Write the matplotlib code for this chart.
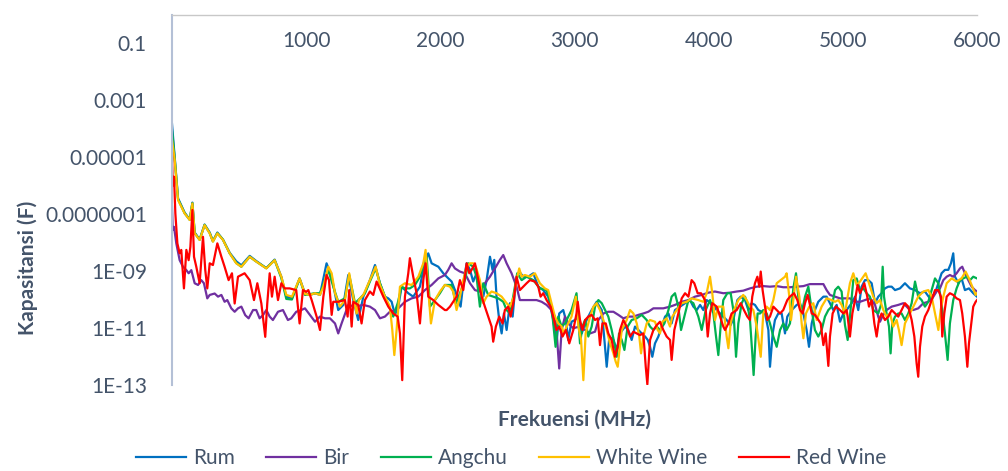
import numpy as np
import matplotlib.pyplot as plt
from matplotlib.ticker import NullLocator

# frequency in MHz, capacitance as log10(F)
rum_f = [0, 20, 45, 94, 132, 152, 169, 206, 243, 281, 305, 338, 380, 430, 479, 517, 579, 628, 703, 765, 815, 852, 894, 951, 991,
         1028, 1066, 1103, 1152, 1190, 1239, 1277, 1314, 1351, 1388, 1426, 1475, 1513, 1550, 1587, 1612, 1637, 1662, 1687, 1711, 1761, 1798, 1848, 1885, 1910, 1935, 1985, 2022,
         2047, 2084, 2109, 2134, 2151, 2171, 2196, 2221, 2245, 2270, 2295, 2320, 2345, 2370, 2389, 2402, 2419, 2439, 2457, 2474, 2494, 2519, 2539, 2563, 2588, 2618, 2655, 2693, 2730, 2767, 2804, 2842, 2866, 2886, 2916, 2936, 2953, 2978, 3003,
         3029, 3054, 3079, 3103, 3128, 3165, 3203, 3223, 3240, 3260, 3290, 3315, 3339, 3377, 3401, 3426, 3451, 3476, 3501, 3526, 3546, 3563, 3580, 3600, 3625, 3650, 3675, 3700, 3724, 3749, 3786, 3824, 3861, 3886, 3911, 3936, 3960, 3985, 4022,
         4060, 4085, 4109, 4134, 4164, 4189, 4214, 4239, 4271, 4296, 4320, 4345, 4370, 4395, 4420, 4445, 4457, 4477, 4494, 4519, 4544, 4569, 4586, 4619, 4656, 4681, 4706, 4730, 4748, 4768, 4792, 4817, 4855, 4879, 4904, 4929, 4954, 4979, 5004, 5028,
         5066, 5091, 5115, 5140, 5165, 5190, 5215, 5240, 5264, 5289, 5314, 5339, 5364, 5389, 5426, 5463, 5500, 5538, 5575, 5612, 5649, 5687, 5712, 5736, 5761, 5786, 5806, 5823, 5836, 5861, 5885, 5910, 5940, 5972, 6000]
rum_logc = [-3.84, -5.00, -6.45, -6.95, -7.20, -6.60, -7.65, -7.90, -7.37, -7.65, -7.95, -7.65, -7.90, -8.36, -8.66, -8.80, -8.47, -8.65, -8.90, -8.60, -9.20, -9.90, -9.95, -9.26, -9.78,
            -9.84, -9.78, -9.84, -8.73, -9.20, -10.37, -10.19, -9.14, -10.02, -10.72, -9.90, -9.32, -8.79, -9.43, -9.90, -9.96, -10.08, -10.54, -10.25, -9.55, -9.78, -9.90, -9.55, -8.67, -8.38, -8.73, -8.85, -9.08,
            -9.20, -9.37, -9.67, -10.02, -10.25, -9.43, -8.73, -8.96, -9.37, -9.08, -9.67, -9.90, -9.32, -8.50, -8.96, -8.61, -9.90, -10.72, -11.19, -10.49, -11.07, -10.13, -10.60, -9.32, -9.02, -9.20, -9.20, -9.08, -9.55, -9.67, -9.90, -10.72, -11.54, -10.49, -10.37, -10.72, -11.42, -10.78, -10.72,
            -10.60, -11.19, -10.84, -10.60, -10.37, -10.08, -10.37, -11.42, -12.36, -11.30, -11.42, -11.77, -11.19, -10.95, -11.07, -11.42, -10.95, -11.07, -11.19, -11.30, -11.42, -11.66, -12.01, -11.54, -11.30, -10.95, -10.60, -10.49, -10.84, -10.37, -10.25, -10.13, -10.02, -10.25, -10.37, -10.19, -10.37, -10.02, -10.13,
            -10.37, -10.49, -10.60, -10.72, -10.90, -10.60, -10.02, -9.90, -10.02, -10.37, -10.13, -10.19, -10.37, -10.43, -10.49, -11.07, -12.36, -11.19, -10.72, -10.49, -10.49, -11.19, -10.60, -10.37, -10.19, -10.13, -10.49, -11.07, -11.66, -10.84, -10.37, -10.08, -9.90, -9.90, -10.13, -10.37, -10.19, -10.78, -10.49, -10.37,
            -10.13, -9.90, -10.37, -9.55, -9.32, -9.32, -9.43, -10.13, -9.90, -9.78, -9.61, -9.55, -9.55, -9.67, -9.61, -9.43, -9.61, -9.67, -9.78, -9.72, -9.96, -9.78, -9.43, -9.08, -8.96, -8.96, -8.73, -8.38, -9.20, -9.43, -9.26, -9.67, -9.61, -9.78, -9.90]

bir_f = [0, 5, 15, 32, 57, 82, 107, 124, 144, 169, 194, 218, 238, 263, 281, 318, 343, 368, 392, 412, 442, 467, 492, 517, 546, 571, 604, 628, 653, 678, 703, 728, 752, 790, 827, 864, 889, 926, 964, 991,
         1028, 1066, 1103, 1140, 1177, 1215, 1239, 1264, 1314, 1364, 1426, 1475, 1513, 1550, 1587, 1624, 1674, 1736, 1786, 1836, 1885, 1935, 1985, 2034,
         2059, 2084, 2109, 2146, 2183, 2221, 2258, 2295, 2332, 2370, 2407, 2444, 2469, 2494, 2531, 2568, 2593, 2630, 2668, 2717, 2755, 2792, 2829, 2854, 2871, 2886, 2904, 2929, 2953, 2991, 3035,
         3079, 3116, 3153, 3178, 3215, 3252, 3290, 3327, 3364, 3401, 3439, 3476, 3513, 3550, 3588, 3625, 3662, 3712, 3749, 3799, 3849, 3898, 3948, 3998, 4047,
         4109, 4159, 4209, 4258, 4308, 4358, 4407, 4457, 4507, 4556, 4606, 4656, 4706, 4755, 4805, 4855, 4879, 4904, 4942, 4979, 5016,
         5053, 5091, 5128, 5165, 5202, 5240, 5264, 5277, 5294, 5326, 5364, 5413, 5451, 5488, 5525, 5562, 5600, 5637, 5667, 5699, 5724, 5749, 5774, 5798, 5823, 5848, 5873, 5890, 5910, 5935, 5960, 5985, 6000]
bir_logc = [-6.74, -7.56, -7.45, -8.03, -8.62, -8.85, -8.97, -9.08, -8.97, -9.43, -9.49, -9.32, -9.43, -9.96, -9.84, -9.79, -9.90, -9.84, -10.08, -10.02, -10.31, -10.43, -10.31, -10.25, -10.55, -10.66, -10.37, -10.37, -10.66, -10.55, -10.37, -10.60, -10.72, -10.43, -10.37, -10.72, -10.66, -10.43, -10.37, -10.31,
            -10.54, -10.78, -10.60, -10.66, -10.66, -10.84, -11.19, -10.84, -10.19, -10.25, -10.19, -10.25, -10.37, -10.66, -10.60, -10.43, -10.37, -10.08, -9.96, -9.90, -9.67, -9.49, -9.26, -9.14,
            -8.96, -8.73, -8.91, -9.02, -9.08, -9.43, -9.67, -9.72, -9.43, -9.20, -8.91, -8.61, -8.44, -8.73, -9.08, -9.55, -10.02, -10.02, -10.02, -10.02, -10.08, -10.19, -10.37, -10.60, -11.42, -12.42, -11.07, -10.60, -10.84, -11.01, -10.95,
            -11.07, -11.19, -11.13, -10.72, -10.49, -10.43, -10.43, -10.54, -10.66, -10.60, -10.60, -10.54, -10.49, -10.43, -10.31, -10.31, -10.31, -10.25, -10.19, -10.08, -10.02, -9.90, -9.84, -9.76, -9.72,
            -9.78, -9.76, -9.72, -9.69, -9.61, -9.55, -9.53, -9.55, -9.53, -9.57, -9.57, -9.55, -9.53, -9.46, -9.46, -9.46, -9.67, -9.84, -9.90, -9.96, -9.96,
            -9.96, -10.08, -10.08, -10.02, -9.96, -10.19, -10.60, -10.78, -10.60, -10.37, -10.25, -10.19, -10.13, -10.31, -10.37, -10.31, -10.13, -10.08, -9.96, -9.72, -9.61, -9.32, -9.20, -9.14, -9.20, -9.08, -8.91, -8.85, -9.08, -9.32, -9.55, -9.67, -9.72]

angchu_f = [0, 20, 45, 94, 132, 152, 169, 206, 243, 281, 305, 338, 380, 430, 479, 517, 579, 628, 703, 765, 815, 852, 894, 951, 991,
            1066, 1103, 1128, 1165, 1202, 1239, 1289, 1321, 1364, 1401, 1438, 1475, 1518, 1550, 1587, 1624, 1649, 1682, 1711, 1736, 1773, 1811, 1848, 1880, 1898, 1923, 1960, 1997, 2034,
            2084, 2116, 2146, 2183, 2208, 2245, 2270, 2295, 2320, 2357, 2394, 2432, 2469, 2494, 2519, 2543, 2573, 2606, 2643, 2693, 2742, 2792, 2829, 2859, 2879, 2904, 2929, 2978, 3015,
            3024, 3041, 3059, 3079, 3103, 3128, 3153, 3178, 3203, 3228, 3252, 3277, 3297, 3315, 3332, 3352, 3372, 3396, 3426, 3464, 3501, 3538, 3563, 3588, 3613, 3637, 3670, 3700, 3724, 3749, 3774, 3794, 3819, 3849, 3886, 3923, 3948, 3978, 4010,
            4035, 4055, 4072, 4089, 4109, 4139, 4164, 4184, 4196, 4204, 4221, 4246, 4271, 4288, 4308, 4325, 4335, 4350, 4365, 4383, 4407, 4432, 4457, 4482, 4507, 4532, 4556, 4581, 4606, 4631, 4651, 4668, 4693, 4718, 4743, 4768, 4792, 4817, 4842, 4867, 4892, 4917, 4942, 4966, 4991, 5016, 5036,
            5053, 5078, 5103, 5128, 5153, 5177, 5202, 5227, 5264, 5284, 5297, 5307, 5326, 5344, 5356, 5369, 5389, 5413, 5438, 5463, 5488, 5513, 5538, 5562, 5587, 5612, 5637, 5662, 5687, 5712, 5736, 5761, 5781, 5798, 5823, 5848, 5873, 5898, 5923, 5948, 5972, 6000]
angchu_logc = [-4.05, -5.05, -6.48, -6.97, -7.20, -6.62, -7.67, -7.90, -7.38, -7.67, -7.96, -7.67, -7.90, -8.38, -8.72, -8.85, -8.50, -8.67, -8.90, -8.62, -9.25, -9.98, -10.00, -9.27, -9.84,
               -9.78, -9.78, -9.49, -8.96, -9.55, -10.08, -9.96, -9.14, -10.13, -9.96, -9.78, -9.37, -8.91, -9.43, -9.90, -10.31, -10.60, -10.13, -9.55, -9.61, -9.61, -9.49, -9.20, -8.67, -8.50, -10.25, -10.02, -9.78, -9.49,
               -9.49, -10.13, -9.78, -9.32, -8.73, -8.85, -9.20, -10.25, -9.43, -9.84, -9.90, -9.96, -10.08, -10.37, -10.49, -9.90, -9.08, -9.32, -9.20, -9.32, -9.61, -9.67, -10.25, -11.66, -10.60, -10.95, -10.84, -10.37, -9.78,
               -10.37, -11.54, -10.95, -10.72, -11.30, -10.95, -10.25, -10.02, -10.13, -10.37, -10.60, -11.07, -11.54, -12.01, -11.19, -11.42, -11.77, -10.95, -10.72, -10.66, -10.54, -10.72, -10.95, -11.07, -10.95, -11.07, -10.84, -10.37, -9.90, -9.78, -10.25, -11.07, -10.60, -10.02, -10.13, -10.60, -11.07, -10.37, -10.02,
               -10.49, -11.30, -11.95, -10.95, -10.02, -9.78, -9.78, -10.37, -11.30, -12.01, -10.84, -10.13, -9.90, -10.13, -10.72, -11.89, -12.65, -11.30, -10.49, -10.49, -10.37, -10.49, -10.84, -11.30, -11.66, -11.07, -10.84, -11.07, -10.84, -9.61, -9.08, -9.90, -10.49, -9.90, -9.55, -10.37, -11.07, -11.30, -11.07, -10.60, -10.37, -10.25, -9.67, -9.55, -9.72, -10.90, -11.42,
               -10.60, -9.32, -9.26, -9.67, -9.61, -9.78, -9.90, -10.37, -10.49, -10.19, -8.85, -9.90, -10.49, -10.95, -11.89, -10.84, -10.60, -10.49, -10.49, -10.72, -10.49, -10.13, -9.37, -9.90, -10.02, -10.25, -10.08, -9.67, -9.26, -9.43, -10.13, -11.19, -12.12, -10.84, -10.02, -9.61, -9.32, -9.26, -9.20, -9.32, -9.20, -9.26]

white_f = [0, 20, 45, 94, 132, 152, 169, 206, 243, 281, 305, 338, 380, 430, 479, 517, 579, 628, 703, 765, 815, 852, 894, 951, 991,
           1028, 1066, 1103, 1128, 1165, 1190, 1215, 1252, 1289, 1321, 1351, 1376, 1393, 1426, 1475, 1518, 1550, 1587, 1624, 1642, 1657, 1674, 1699, 1736, 1786, 1836, 1873, 1890, 1910, 1930, 1960, 1997, 2034,
           2072, 2096, 2121, 2146, 2171, 2196, 2221, 2245, 2265, 2295, 2320, 2345, 2382, 2419, 2457, 2494, 2519, 2548, 2568, 2588, 2606, 2630, 2668, 2705, 2742, 2779, 2804, 2829, 2854, 2879, 2904, 2921, 2941, 2978, 3010,
           3029, 3049, 3066, 3083, 3116, 3141, 3165, 3190, 3215, 3240, 3265, 3290, 3307, 3322, 3352, 3389, 3414, 3439, 3464, 3483, 3496, 3513, 3538, 3563, 3600, 3620, 3637, 3655, 3687, 3712, 3729, 3762, 3799, 3836, 3873, 3923, 3960, 3985, 4010, 4027,
           4047, 4072, 4109, 4134, 4147, 4164, 4189, 4221, 4258, 4283, 4308, 4333, 4358, 4378, 4388, 4407, 4432, 4457, 4482, 4507, 4537, 4569, 4581, 4601, 4614, 4631, 4651, 4676, 4693, 4706, 4725, 4750, 4780, 4805, 4842, 4879, 4917, 4942, 4966, 4991, 5016,
           5036, 5053, 5078, 5103, 5128, 5153, 5170, 5195, 5227, 5252, 5277, 5302, 5326, 5351, 5376, 5401, 5418, 5438, 5463, 5488, 5513, 5538, 5562, 5600, 5637, 5662, 5687, 5712, 5729, 5749, 5774, 5811, 5848, 5885, 5915, 5940, 5965, 5990, 6000]
white_logc = [-4.40, -5.11, -6.51, -6.98, -7.21, -6.63, -7.68, -7.91, -7.39, -7.68, -7.97, -7.68, -7.91, -8.38, -8.73, -8.85, -8.50, -8.67, -8.91, -8.62, -9.20, -9.84, -9.90, -9.26, -9.80,
              -9.84, -9.78, -9.84, -9.55, -8.85, -9.08, -9.78, -10.25, -10.02, -9.08, -9.90, -10.49, -10.02, -9.84, -9.32, -8.85, -9.49, -9.90, -10.25, -11.07, -11.95, -11.07, -9.55, -9.43, -9.49, -9.20, -8.73, -8.26, -9.67, -10.84, -10.02, -9.72, -9.49,
              -9.55, -9.72, -10.37, -9.90, -9.32, -8.85, -8.73, -8.73, -8.85, -9.32, -10.13, -9.90, -9.72, -9.78, -9.90, -10.13, -10.25, -9.90, -9.32, -8.91, -9.20, -9.14, -9.20, -9.08, -9.43, -9.61, -9.67, -10.13, -10.60, -10.84, -10.95, -11.19, -10.95, -10.60, -9.90,
              -10.95, -11.42, -12.83, -11.19, -10.60, -10.25, -10.13, -10.37, -10.72, -11.07, -11.54, -11.89, -12.18, -12.36, -11.07, -10.72, -10.37, -10.49, -10.84, -11.30, -11.89, -11.30, -10.84, -10.72, -10.78, -11.07, -11.19, -10.78, -10.66, -10.95, -10.60, -10.37, -10.13, -10.08, -9.96, -10.02, -10.08, -9.78, -9.20, -9.78,
              -10.72, -10.25, -10.25, -11.30, -11.71, -10.84, -10.37, -10.02, -9.84, -10.02, -10.25, -10.37, -10.95, -11.66, -12.01, -10.49, -10.25, -10.37, -10.02, -9.43, -9.32, -9.20, -9.08, -9.90, -10.72, -10.02, -9.20, -9.90, -10.84, -11.36, -10.49, -10.25, -10.13, -10.72, -10.25, -9.96, -10.02, -10.08, -10.02, -10.19, -10.50,
              -9.90, -9.43, -9.08, -9.49, -9.37, -9.20, -9.08, -9.43, -9.90, -10.13, -10.02, -10.37, -10.60, -10.49, -10.95, -10.72, -11.07, -11.60, -10.84, -10.60, -10.37, -10.13, -9.90, -9.72, -9.67, -9.90, -10.49, -11.07, -10.37, -9.90, -9.43, -9.26, -9.37, -9.26, -9.02, -9.26, -9.55, -9.84, -9.78]

red_f = [0, 5, 15, 25, 40, 57, 69, 89, 107, 124, 137, 152, 164, 181, 206, 231, 248, 263, 281, 305, 338, 368, 392, 422, 447, 467, 492, 541, 579, 611, 636, 666, 695, 710, 728, 745, 765, 790, 815, 839, 877, 926, 951, 976, 1001,
         1016, 1041, 1078, 1103, 1128, 1152, 1170, 1190, 1202, 1239, 1289, 1309, 1321, 1339, 1351, 1388, 1413, 1438, 1475, 1500, 1525, 1575, 1612, 1649, 1682, 1699, 1716, 1736, 1761, 1773, 1798, 1823, 1848, 1873, 1890, 1910, 1947, 1985, 2034,
         2047, 2072, 2096, 2121, 2146, 2171, 2196, 2216, 2233, 2258, 2283, 2308, 2332, 2357, 2382, 2394, 2414, 2439, 2464, 2481, 2506, 2524, 2548, 2568, 2593, 2618, 2643, 2668, 2705, 2730, 2747, 2767, 2792, 2822, 2847, 2866, 2886, 2911, 2936, 2961, 2991, 3015,
         3024, 3041, 3059, 3079, 3103, 3128, 3153, 3173, 3190, 3208, 3233, 3252, 3277, 3302, 3322, 3339, 3364, 3389, 3414, 3439, 3464, 3488, 3513, 3531, 3543, 3563, 3588, 3613, 3637, 3662, 3687, 3712, 3724, 3744, 3774, 3799, 3824, 3849, 3873, 3893, 3918, 3943, 3973, 3993, 4010, 4027,
         4060, 4085, 4109, 4122, 4147, 4171, 4209, 4239, 4263, 4288, 4308, 4325, 4345, 4363, 4378, 4388, 4402, 4420, 4437, 4457, 4482, 4507, 4532, 4556, 4586, 4606, 4636, 4661, 4681, 4701, 4718, 4738, 4755, 4768, 4792, 4810, 4835, 4855, 4872, 4892, 4904, 4924, 4949, 4979, 5004, 5028,
         5036, 5053, 5071, 5091, 5110, 5128, 5145, 5160, 5177, 5195, 5215, 5235, 5252, 5269, 5289, 5314, 5339, 5364, 5389, 5413, 5438, 5463, 5488, 5513, 5533, 5550, 5562, 5575, 5592, 5612, 5637, 5662, 5687, 5712, 5731, 5741, 5756, 5774, 5798, 5823, 5848, 5873, 5890, 5910, 5928, 5940, 5955, 5972, 5990, 6000]
red_logc = [-4.87, -6.00, -5.69, -6.98, -8.03, -8.38, -8.26, -9.61, -8.26, -8.62, -8.15, -6.86, -8.50, -8.85, -9.43, -7.80, -8.97, -9.61, -8.73, -8.79, -8.03, -8.50, -8.85, -9.32, -9.08, -10.14, -9.20, -9.08, -9.32, -10.02, -9.43, -10.14, -11.31, -10.14, -9.08, -9.90, -9.20, -10.02, -9.43, -9.61, -9.61, -9.67, -10.84, -9.67, -9.73,
            -9.67, -10.02, -10.60, -11.07, -9.90, -9.14, -9.32, -10.54, -10.08, -10.08, -10.02, -10.60, -9.67, -10.95, -10.08, -10.19, -10.84, -10.02, -9.72, -9.84, -9.37, -9.90, -10.25, -10.49, -10.60, -11.19, -12.83, -9.90, -9.08, -8.55, -9.20, -9.78, -10.84, -9.32, -8.73, -9.90, -10.02, -10.19, -10.37,
            -10.37, -10.25, -10.08, -9.90, -9.32, -9.67, -8.73, -9.08, -8.96, -8.73, -9.32, -9.90, -10.25, -10.60, -10.95, -11.48, -10.95, -10.60, -10.84, -10.37, -10.25, -10.60, -10.02, -9.20, -9.67, -9.55, -9.43, -9.32, -9.37, -9.55, -9.90, -9.78, -10.02, -10.25, -10.72, -11.07, -10.95, -11.30, -11.07, -11.54, -11.07, -10.49,
            -10.08, -10.72, -11.07, -10.72, -10.60, -10.54, -10.72, -10.66, -11.60, -10.84, -10.84, -11.19, -11.42, -12.01, -11.66, -11.07, -10.72, -10.95, -11.30, -11.13, -11.19, -11.25, -11.19, -12.36, -12.98, -11.42, -11.07, -10.90, -10.78, -11.07, -11.30, -11.42, -12.12, -11.07, -10.49, -9.96, -9.78, -9.90, -9.32, -9.43, -9.78, -9.78, -10.02, -11.30, -10.49, -10.13,
            -10.25, -10.60, -10.95, -11.07, -10.84, -10.49, -10.37, -10.13, -10.37, -10.60, -10.72, -9.90, -9.43, -9.20, -9.55, -9.02, -9.67, -10.25, -10.72, -10.60, -10.25, -10.37, -10.49, -10.37, -10.02, -9.90, -9.78, -10.02, -10.37, -10.49, -10.13, -9.84, -10.19, -10.49, -10.54, -10.66, -10.84, -11.60, -11.19, -12.33, -11.30, -10.49, -10.25, -10.37, -10.49, -10.37,
            -10.60, -11.30, -10.49, -10.02, -9.49, -9.78, -9.61, -9.43, -9.78, -10.25, -10.02, -10.84, -11.30, -10.72, -10.49, -10.72, -10.60, -10.37, -10.49, -10.60, -10.37, -10.13, -10.25, -10.72, -11.30, -12.24, -12.71, -11.66, -10.95, -10.60, -10.37, -10.02, -9.67, -9.67, -9.90, -11.30, -10.49, -9.90, -9.78, -9.84, -9.96, -10.02, -10.49, -11.30, -12.36, -11.54, -10.95, -10.25, -10.08, -10.02]

labels = ['Rum', 'Bir', 'Angchu', 'White Wine', 'Red Wine']
colors = ['#0070C0', '#7030A0', '#00B050', '#FFC000', '#FF0000']

ytick_vals = [1e-13, 1e-11, 1e-9, 1e-7, 1e-5, 1e-3, 1e-1]
ytick_labels = ['1E-13', '1E-11', '1E-09', '0.0000001', '0.00001', '0.001', '0.1']
xtick_vals = [1000, 2000, 3000, 4000, 5000, 6000]

txt_color = '#44546A'
plt.rcParams['font.family'] = ['Lato', 'DejaVu Sans']
plt.rcParams['font.size'] = 15

W, H = 1008, 471
fig = plt.figure(figsize=(W/100, H/100), dpi=100)
ax = fig.add_axes([172/W, 1-385/H, (977-172)/W, (385-14.5)/H])

series = [(rum_f, rum_logc), (bir_f, bir_logc), (angchu_f, angchu_logc),
          (white_f, white_logc), (red_f, red_logc)]
for (f, lc), lab, col in zip(series, labels, colors):
    ax.plot(f, 10.0**np.array(lc), color=col, lw=1.6, label=lab,
            solid_joinstyle='round')

ax.set_yscale('log')
ax.set_ylim(1e-13, 1)
ax.set_xlim(0, 6000)
ax.set_yticks(ytick_vals)
ax.set_yticklabels(ytick_labels)
ax.yaxis.set_minor_locator(NullLocator())
ax.set_xticks(xtick_vals)
ax.set_xticklabels([str(v) for v in xtick_vals])
ax.xaxis.tick_top()
ax.tick_params(axis='x', length=0, pad=-26, colors=txt_color, labelsize=15)
ax.tick_params(axis='y', length=0, pad=18, colors=txt_color, labelsize=15)

for s in ['right', 'bottom']:
    ax.spines[s].set_visible(False)
ax.spines['left'].set_color('#B4C0D6')
ax.spines['left'].set_linewidth(1.5)
ax.spines['top'].set_color('#C8C8C8')
ax.spines['top'].set_linewidth(1.0)

fig.text(28/W, 1-268/H, 'Kapasitansi (F)', rotation=90, ha='center', va='center',
         fontsize=15, fontweight='bold', color=txt_color)
fig.text(574/W, 1-420/H, 'Frekuensi (MHz)', ha='center', va='center',
         fontsize=15, fontweight='bold', color=txt_color)

leg = fig.legend(loc='center', bbox_to_anchor=(511/W, 1-458/H), ncol=5,
                 frameon=False, handlelength=2.4, handletextpad=0.35,
                 columnspacing=1.5, fontsize=15)
for t in leg.get_texts():
    t.set_color(txt_color)

fig.savefig('out.png', dpi=100)
